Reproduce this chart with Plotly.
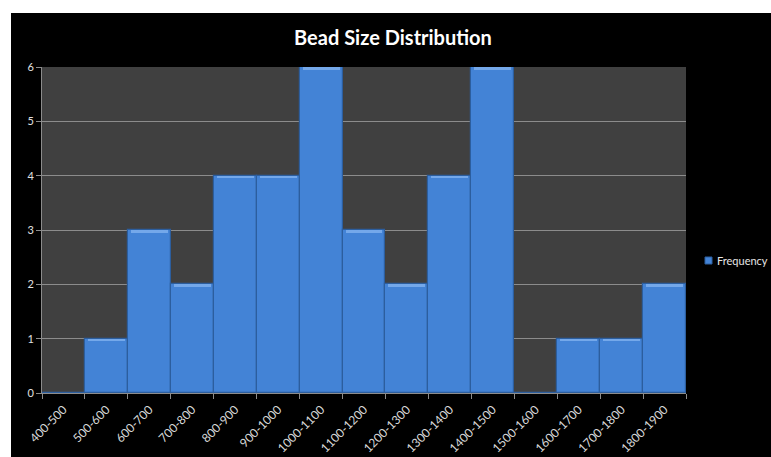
import plotly.graph_objects as go

# Bead size bins (microns) and counts per bin
bins = ["400-500", "500-600", "600-700", "700-800", "800-900", "900-1000",
        "1000-1100", "1100-1200", "1200-1300", "1300-1400", "1400-1500",
        "1500-1600", "1600-1700", "1700-1800", "1800-1900"]
frequency = [0, 1, 3, 2, 4, 4, 6, 3, 2, 4, 6, 0, 1, 1, 2]
y_ticks = [0, 1, 2, 3, 4, 5, 6]

W, H = 771, 457
L, R, T, B = 42, 85, 67, 64
pw, ph = W - L - R, H - T - B

BAR = "#4383d6"
BAR_EDGE = "#2c5e9e"
BAR_TOP = "#74a8ea"


def px_x(p):
    return (p - L) / pw


def px_y(p):
    return (H - B - p) / ph


# thin bevel highlight along each bar's top edge
cap = 0.05
cap_height = [cap if v > 0 else None for v in frequency]
cap_base = [v - cap if v > 0 else None for v in frequency]

fig = go.Figure()
fig.add_trace(go.Bar(
    x=bins, y=frequency, name="Frequency",
    marker=dict(color=BAR, line=dict(color=BAR_EDGE, width=1.2)),
    showlegend=False, hoverinfo="x+y",
))
fig.add_trace(go.Bar(
    x=bins, y=cap_height, base=cap_base, width=0.86,
    marker=dict(color=BAR_TOP, line=dict(width=0)),
    showlegend=False, hoverinfo="skip",
))

fig.update_layout(
    width=W,
    height=H,
    margin=dict(l=L, r=R, t=T, b=B, autoexpand=False),
    paper_bgcolor="#000000",
    plot_bgcolor="#404040",
    bargap=0,
    barmode="overlay",
    title=dict(
        text="<b>Bead Size Distribution</b>",
        x=393 / W,
        xanchor="center",
        y=1 - 38 / H,
        yanchor="middle",
        font=dict(family="Lato, Open Sans, sans-serif", size=20, color="#ffffff"),
    ),
    font=dict(family="Lato, Open Sans, sans-serif", color="#d8d8d8", size=10),
    showlegend=False,
    shapes=[
        # white border strips along top and left edges
        dict(type="rect", xref="paper", yref="paper",
             x0=px_x(-5), x1=px_x(W + 5), y0=px_y(13), y1=px_y(-5),
             fillcolor="#ffffff", line=dict(width=0)),
        dict(type="rect", xref="paper", yref="paper",
             x0=px_x(-5), x1=px_x(11), y0=px_y(H + 5), y1=px_y(-5),
             fillcolor="#ffffff", line=dict(width=0)),
        # legend key
        dict(type="rect", xref="paper", yref="paper",
             x0=px_x(705), x1=px_x(712), y0=px_y(264), y1=px_y(257),
             fillcolor=BAR, line=dict(color=BAR_EDGE, width=1)),
    ],
    annotations=[
        dict(text="Frequency", xref="paper", yref="paper",
             x=px_x(715), y=px_y(260.5), xanchor="left", yanchor="middle",
             showarrow=False, font=dict(size=11, color="#e6e6e6")),
    ],
)

fig.update_xaxes(
    type="category",
    tickangle=-45,
    tickson="boundaries",
    ticks="outside",
    ticklen=5,
    tickcolor="#8c8c8c",
    showline=True,
    linecolor="#8c8c8c",
    linewidth=1,
    showgrid=False,
    ticklabelstandoff=4,
    tickfont=dict(size=12, color="#d8d8d8"),
)

fig.update_yaxes(
    range=[0, 6],
    tickvals=y_ticks,
    ticks="outside",
    ticklen=5,
    tickcolor="#8c8c8c",
    showline=True,
    linecolor="#8c8c8c",
    linewidth=1,
    showgrid=True,
    gridcolor="#8c8c8c",
    gridwidth=1,
    zeroline=False,
    tickfont=dict(size=11, color="#e0e0e0"),
)

fig.write_html("out.html")
